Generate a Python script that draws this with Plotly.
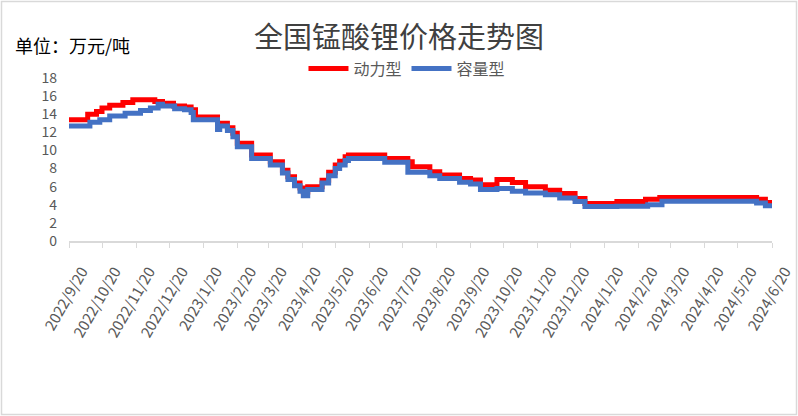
import plotly.graph_objects as go
import pandas as pd

# ---- data ----
power_dates = [
    "2022-09-20", "2022-10-07", "2022-10-15", "2022-10-20", "2022-10-27", "2022-11-08",
    "2022-11-17", "2022-12-07", "2022-12-14", "2022-12-24", "2023-01-03", "2023-01-09",
    "2023-01-13", "2023-02-02", "2023-02-11", "2023-02-16", "2023-02-20", "2023-03-05",
    "2023-03-22", "2023-04-02", "2023-04-07", "2023-04-13", "2023-04-18", "2023-04-21",
    "2023-04-25", "2023-05-08", "2023-05-14", "2023-05-20", "2023-05-24", "2023-05-29",
    "2023-06-01", "2023-07-04", "2023-07-25", "2023-07-29", "2023-08-14", "2023-08-23",
    "2023-09-10", "2023-09-20", "2023-09-29", "2023-10-14", "2023-10-28", "2023-11-09",
    "2023-11-27", "2023-12-10", "2023-12-24", "2024-01-02", "2024-01-31", "2024-02-26",
    "2024-03-10", "2024-06-06", "2024-06-14", "2024-06-20",
]
power_values = [
    13.4, 14.0, 14.3, 14.7, 15.0, 15.3,
    15.6, 15.4, 15.2, 14.9, 14.8, 14.5,
    13.7, 13.0, 12.5, 11.9, 10.8, 9.5,
    8.75, 7.8, 7.1, 6.4, 5.85, 5.4,
    6.0, 6.7, 7.6, 8.4, 8.8, 9.3,
    9.5, 9.1, 8.75, 8.2, 7.65, 7.3,
    6.9, 6.75, 6.2, 6.8, 6.45, 6.0,
    5.6, 5.25, 4.7, 4.15, 4.35, 4.6,
    4.8, 4.6, 4.25, 4.25,
]

capacity_dates = [
    "2022-09-20", "2022-10-09", "2022-10-18", "2022-10-27", "2022-11-10", "2022-11-24",
    "2022-12-03", "2022-12-10", "2022-12-14", "2022-12-25", "2023-01-03", "2023-01-09",
    "2023-01-11", "2023-02-02", "2023-02-04", "2023-02-11", "2023-02-16", "2023-02-20",
    "2023-03-05", "2023-03-22", "2023-04-02", "2023-04-07", "2023-04-13", "2023-04-18",
    "2023-04-21", "2023-04-25", "2023-05-08", "2023-05-14", "2023-05-20", "2023-05-24",
    "2023-05-29", "2023-06-01", "2023-07-04", "2023-07-25", "2023-08-14", "2023-08-23",
    "2023-09-10", "2023-09-20", "2023-09-29", "2023-10-14", "2023-10-28", "2023-11-09",
    "2023-11-27", "2023-12-10", "2023-12-24", "2024-01-02", "2024-01-31", "2024-02-28",
    "2024-03-12", "2024-06-06", "2024-06-14", "2024-06-20",
]
capacity_values = [
    12.7, 13.1, 13.4, 13.8, 14.1, 14.4,
    14.7, 15.1, 14.9, 14.6, 14.5, 14.2,
    13.4, 12.3, 12.7, 12.2, 11.5, 10.4,
    9.1, 8.4, 7.5, 6.8, 6.1, 5.5,
    5.0, 5.7, 6.4, 7.2, 8.0, 8.4,
    8.9, 9.1, 8.7, 7.6, 7.2, 6.9,
    6.5, 6.3, 5.7, 5.8, 5.5, 5.3,
    5.1, 4.75, 4.35, 3.8, 3.85, 4.0,
    4.4, 4.2, 3.9, 3.9,
]

tick_labels = [
    "2022/9/20", "2022/10/20", "2022/11/20", "2022/12/20", "2023/1/20", "2023/2/20",
    "2023/3/20", "2023/4/20", "2023/5/20", "2023/6/20", "2023/7/20", "2023/8/20",
    "2023/9/20", "2023/10/20", "2023/11/20", "2023/12/20", "2024/1/20", "2024/2/20",
    "2024/3/20", "2024/4/20", "2024/5/20", "2024/6/20",
]
y_ticks = [0, 2, 4, 6, 8, 10, 12, 14, 16, 18]

series_names = ["动力型", "容量型"]
title_text = "全国锰酸锂价格走势图"
unit_text = "单位：万元/吨"

# ---- figure ----
FONT = "Noto Sans CJK SC"
tick_vals = pd.to_datetime(tick_labels, format="%Y/%m/%d")

fig = go.Figure()
fig.add_trace(go.Scatter(
    x=pd.to_datetime(power_dates), y=power_values, name=series_names[0],
    mode="lines", line=dict(color="#FF0000", width=5, shape="hv"),
))
fig.add_trace(go.Scatter(
    x=pd.to_datetime(capacity_dates), y=capacity_values, name=series_names[1],
    mode="lines", line=dict(color="#4472C4", width=5, shape="hv"),
))

fig.update_layout(
    width=798, height=416,
    margin=dict(l=69, r=26, t=78, b=175, autoexpand=False),
    paper_bgcolor="white", plot_bgcolor="white",
    font=dict(family=FONT, color="#595959"),
    showlegend=True,
    legend=dict(
        orientation="h", xref="container", yref="container",
        x=0.51, xanchor="center", y=0.835, yanchor="middle",
        font=dict(size=16, color="#595959", family=FONT),
        bgcolor="rgba(0,0,0,0)", itemwidth=40,
    ),
    xaxis=dict(
        range=[tick_vals[0], tick_vals[-1]],
        tickmode="array", tickvals=tick_vals, ticktext=tick_labels,
        tickangle=-60, tickfont=dict(size=15, color="#595959", family=FONT),
        ticklabelshift=13, ticklabelstandoff=9,
        showgrid=False, zeroline=False,
        showline=True, linecolor="#D9D9D9", linewidth=1.5,
        ticks="outside", ticklen=5, tickcolor="#D9D9D9",
    ),
    yaxis=dict(
        range=[0, 18], tickmode="array", tickvals=y_ticks,
        tickfont=dict(size=14, color="#595959", family=FONT),
        ticklabelstandoff=11,
        showgrid=False, zeroline=False, showline=False, ticks="",
    ),
    annotations=[
        dict(text=title_text, xref="paper", yref="paper", x=(399 - 69) / 703,
             y=1 + (78 - 35) / 163, xanchor="center", yanchor="middle",
             showarrow=False, font=dict(size=29, color="#404040", family=FONT)),
        dict(text=unit_text, xref="paper", yref="paper", x=(13 - 69) / 703,
             y=1 + (78 - 45) / 163, xanchor="left", yanchor="middle",
             showarrow=False, font=dict(size=18, color="#000000", family=FONT)),
    ],
    shapes=[
        dict(type="rect", xref="paper", yref="paper",
             x0=(1.5 - 69) / 703, x1=(796.5 - 69) / 703,
             y0=1 - (414.5 - 78) / 163, y1=1 + (78 - 1.5) / 163,
             line=dict(color="#D9D9D9", width=1.5), fillcolor="rgba(0,0,0,0)",
             layer="below"),
    ],
)

fig.write_html("out.html", config={"displayModeBar": False},
               post_script="document.body.style.margin='0';")
